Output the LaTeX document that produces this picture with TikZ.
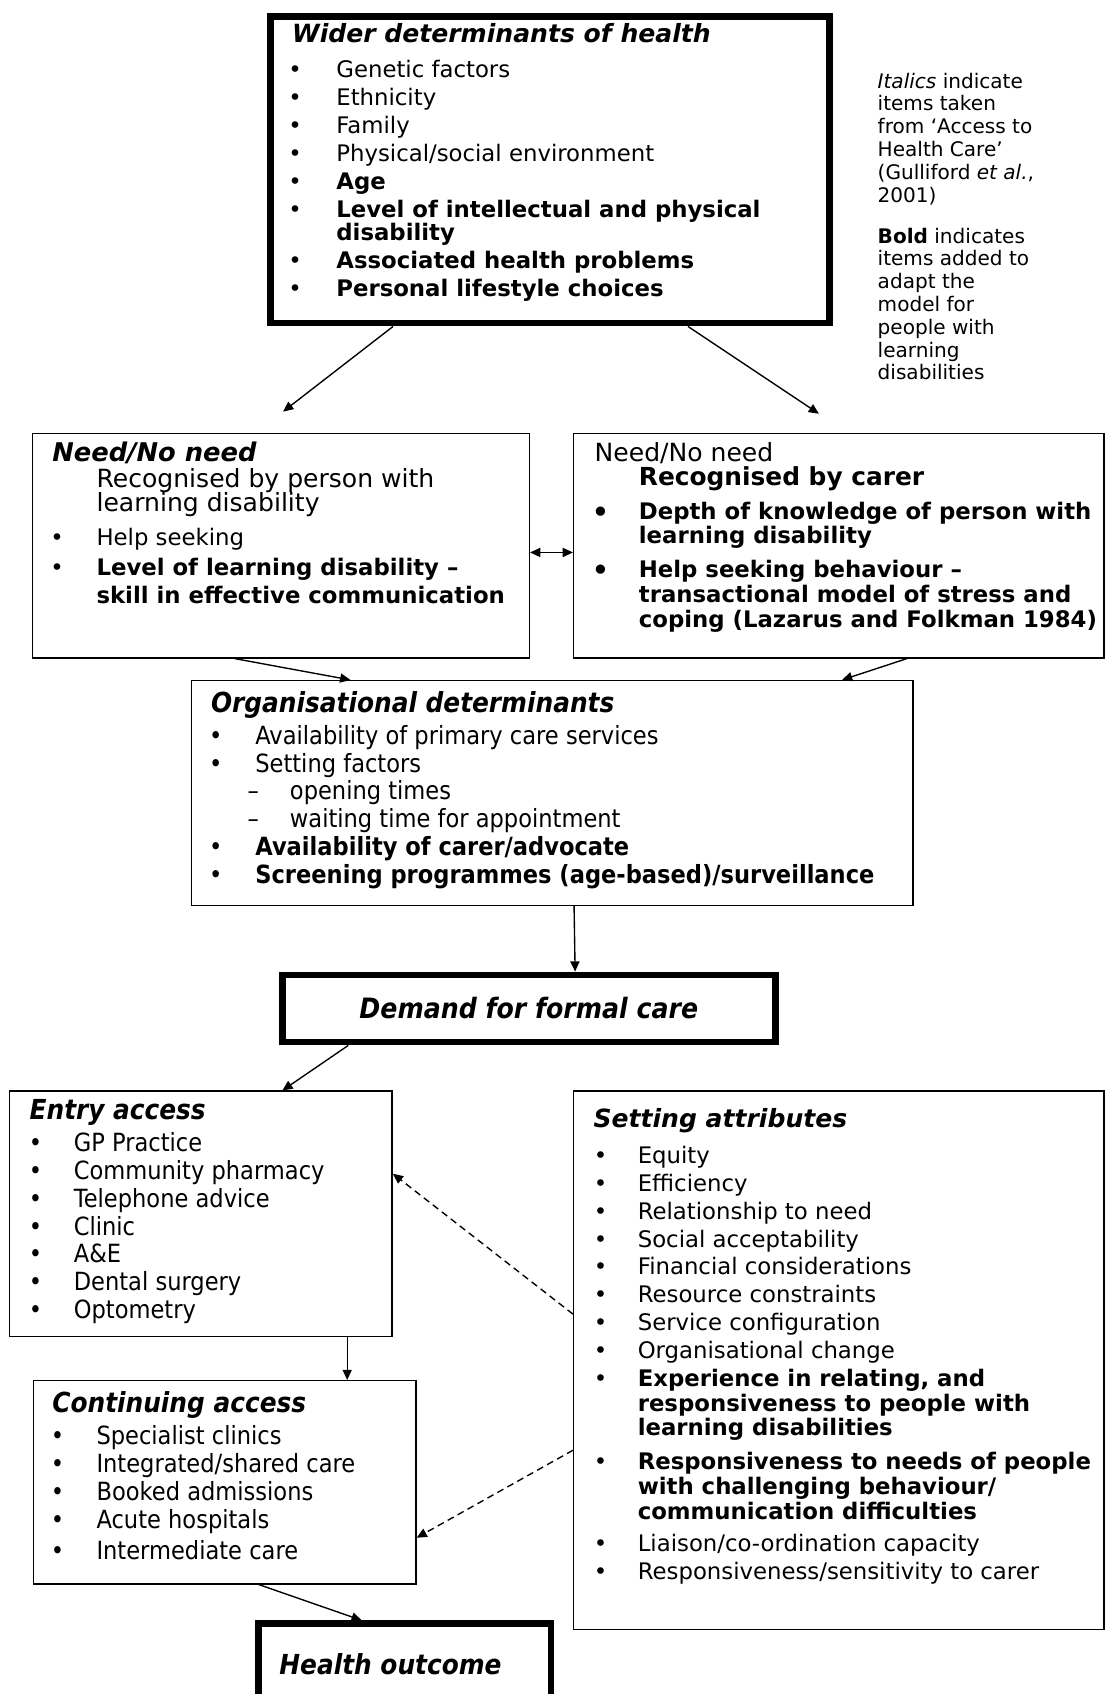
\documentclass[tikz,border=0pt]{standalone}
\usepackage{fontspec}
\setmainfont{DejaVu Sans}
\newfontfamily\tahoma{DejaVu Sans}[FakeStretch=0.9]
\usetikzlibrary{positioning,fit,calc,arrows.meta}

\newcommand{\hd}[2][11]{{\fontsize{#1}{12}\selectfont\bfseries\itshape #2}}
\newcommand{\bul}[2][0pt]{\makebox[19.4pt][l]{\hspace*{#1}\textbullet}#2}
\newcommand{\bigbul}[1]{\makebox[19.4pt][l]{\hspace*{-1.3pt}\raisebox{-1.7pt}{\fontsize{14}{12}\selectfont\textbullet}}#1}
\newcommand{\cnt}[1]{\hspace*{19.4pt}#1}
\newcommand{\dsh}[1]{\makebox[34.6pt][l]{\hspace*{16pt}–}#1}

\begin{document}
\begin{tikzpicture}[x=0.474pt, y=-0.474pt,
    frame/.style={draw, line width=0.6pt, inner sep=0pt},
    heavy/.style={draw, line width=3pt, inner sep=0pt},
    txt/.style={anchor=north west, inner sep=0pt, align=left, font=\fontsize{10}{12.2}\selectfont},
    tah/.style={txt, font=\tahoma\fontsize{11}{12.2}\selectfont},
    arr/.style={-{Triangle[length=4.5pt,width=4pt]}, line width=0.6pt},
    dbl/.style={{Triangle[length=4.5pt,width=4pt]}-{Triangle[length=4.5pt,width=4pt]}, line width=0.6pt},
    dasharr/.style={arr, dash pattern=on 3pt off 2pt}]
    \useasboundingbox (0,0) rectangle (1027,1568);

    % boxes
    \node[heavy, fit={(250,15) (768,299)}] (wider) {};
    \node[frame, fit={(30,401) (490,609)}] (needp) {};
    \node[frame, fit={(531,401) (1022,609)}] (needc) {};
    \node[frame, fit={(177,630) (845,838)}] (org) {};
    \node[heavy, fit={(261.5,902.5) (717.5,964.5)},
        label={[name=demandtxt, font=\tahoma\fontsize{12.3}{12}\selectfont\bfseries\itshape]center:Demand for formal care}] (demand) {};
    \node[frame, fit={(9,1010) (363,1237)}] (entry) {};
    \node[frame, fit={(31,1278) (385,1466)}] (cont) {};
    \node[frame, fit={(531,1010) (1022,1508)}] (setting) {};
    \node[heavy, fit={(239,1503) (510,1577)},
        label={[name=healthtxt, xshift=-6.2pt, font=\tahoma\fontsize{12.1}{12}\selectfont\bfseries\itshape]center:Health outcome}] (health) {};

    % texts
    \node[txt] (widertxt) at (270,21) {\hd{Wider determinants of health}\\[3.5pt]
        \bul[-1.7pt]{Genetic factors}\\
        \bul[-1.7pt]{Ethnicity}\\
        \bul[-1.7pt]{Family}\\
        \bul[-1.7pt]{Physical/social environment}\\
        \bul[-1.7pt]{\bfseries Age}\\
        \bul[-1.7pt]{\bfseries Level of intellectual and physical}\\[-1.75pt]
        \cnt{\bfseries disability}\\
        \bul[-1.7pt]{\bfseries Associated health problems}\\
        \bul[-1.7pt]{\bfseries Personal lifestyle choices}};
    \node[txt, font=\fontsize{8.8}{10}\selectfont] (note) at (812,67) {\textit{Italics} indicate\\
        items taken\\
        from ‘Access to\\
        Health Care’\\
        (Gulliford \textit{et al.},\\
        2001)\\[8pt]
        \textbf{Bold} indicates\\
        items added to\\
        adapt the\\
        model for\\
        people with\\
        learning\\
        disabilities};
    \node[txt] (needptxt) at (48,409) {\hd[11.3]{Need/No need}\\[-1pt]
        \cnt{\fontsize{11}{12}\selectfont Recognised by person with}\\[-1.75pt]
        \cnt{\fontsize{11}{12}\selectfont learning disability}\\[2.7pt]
        \bul[-0.9pt]{Help seeking}\\[1.1pt]
        \bul[-0.9pt]{\bfseries Level of learning disability –}\\
        \cnt{\bfseries skill in effective communication}};
    \node[txt] (needctxt) at (550,409) {{\fontsize{11}{12}\selectfont Need/No need}\\[-1.5pt]
        \cnt{\fontsize{10.9}{12}\selectfont\bfseries Recognised by carer}\\[2.7pt]
        \bigbul{\bfseries Depth of knowledge of person with}\\[-1.75pt]
        \cnt{\bfseries learning disability}\\[2.7pt]
        \bigbul{\bfseries Help seeking behaviour –}\\[-1.3pt]
        \cnt{\bfseries transactional model of stress and}\\[-1.3pt]
        \cnt{\bfseries coping (Lazarus and Folkman 1984)}};
    \node[tah] (orgtxt) at (195,640) {\hd[12.1]{Organisational determinants}\\[1.6pt]
        \bul[-0.9pt]{Availability of primary care services}\\
        \bul[-0.9pt]{Setting factors}\\
        \dsh{opening times}\\
        \dsh{waiting time for appointment}\\
        \bul[-0.9pt]{\bfseries Availability of carer/advocate}\\
        \bul[-0.9pt]{\bfseries Screening programmes (age-based)/surveillance}};
    \node[tah] (entrytxt) at (27,1017) {\hd[12.1]{Entry access}\\[2pt]
        \bul[-0.3pt]{GP Practice}\\
        \bul[-0.3pt]{Community pharmacy}\\
        \bul[-0.3pt]{Telephone advice}\\
        \bul[-0.3pt]{Clinic}\\
        \bul[-0.3pt]{A\&E}\\
        \bul[-0.3pt]{Dental surgery}\\
        \bul[-0.3pt]{Optometry}};
    \node[tah] (conttxt) at (48,1288) {\hd[12.1]{Continuing access}\\[1.8pt]
        \bul[-0.6pt]{Specialist clinics}\\
        \bul[-0.6pt]{Integrated/shared care}\\
        \bul[-0.6pt]{Booked admissions}\\
        \bul[-0.6pt]{Acute hospitals}\\[1.6pt]
        \bul[-0.6pt]{Intermediate care}};
    \node[txt] (settingtxt) at (549,1026) {\hd{Setting attributes}\\[3.5pt]
        \bul[0.1pt]{Equity}\\
        \bul[0.1pt]{Efficiency}\\
        \bul[0.1pt]{Relationship to need}\\
        \bul[0.1pt]{Social acceptability}\\
        \bul[0.1pt]{Financial considerations}\\
        \bul[0.1pt]{Resource constraints}\\
        \bul[0.1pt]{Service configuration}\\
        \bul[0.1pt]{Organisational change}\\
        \bul[0.1pt]{\bfseries Experience in relating, and}\\[-1.3pt]
        \cnt{\bfseries responsiveness to people with}\\[-1.3pt]
        \cnt{\bfseries learning disabilities}\\[2.5pt]
        \bul[0.1pt]{\bfseries Responsiveness to needs of people}\\[-1.3pt]
        \cnt{\bfseries with challenging behaviour/}\\[-1.3pt]
        \cnt{\bfseries communication difficulties}\\[2pt]
        \bul[0.1pt]{Liaison/co-ordination capacity}\\
        \bul[0.1pt]{Responsiveness/sensitivity to carer}};

    % arrows
    \coordinate (needpin) at (262,381);
    \coordinate (needcin) at (758,383);
    \draw[arr] ($(wider.south west)+(117,0)$) -- (needpin);
    \draw[arr] ($(wider.south west)+(390,0)$) -- (needcin);
    \draw[dbl] ($(needp.north east)+(0,111)$) -- ($(needc.north west)+(0,111)$);
    \draw[arr] ($(needp.south west)+(188,0)$) -- ($(org.north west)+(148,0)$);
    \draw[arr] ($(needc.south west)+(309,0)$) -- ($(org.north west)+(603,0)$);
    \draw[arr] ($(org.south west)+(355,0)$) -- ($(demand.north west)+(274,0)$);
    \draw[arr] ($(demand.south west)+(64,0)$) -- ($(entry.north west)+(253,0)$);
    \draw[arr] ($(entry.south west)+(313,0)$) -- ($(cont.north west)+(291,0)$);
    \draw[arr] ($(cont.south west)+(209,0)$) -- ($(health.north west)+(99,0)$);
    \draw[dasharr] ($(setting.north west)+(0,207)$) -- ($(entry.north east)+(0,77)$);
    \draw[dasharr] ($(setting.north west)+(0,333)$) -- ($(cont.north east)+(0,146)$);
\end{tikzpicture}
\end{document}
